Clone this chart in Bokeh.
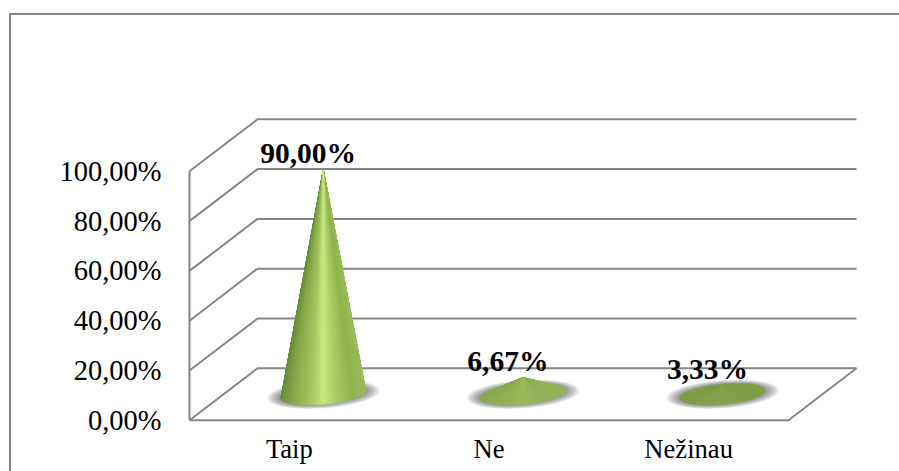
from bokeh.core.properties import value
from bokeh.embed import file_html
from bokeh.models import FixedTicker, Range1d
from bokeh.plotting import figure
from bokeh.resources import INLINE
import numpy as np

categories = ["Taip", "Ne", "Nežinau"]
shares = [90.00, 6.67, 3.33]
share_labels = ["90,00%", "6,67%", "3,33%"]
y_ticks = [0, 20, 40, 60, 80, 100]
y_tick_labels = ["0,00%", "20,00%", "40,00%", "60,00%", "80,00%", "100,00%"]

FONT = "Liberation Serif"
WALL = "#868686"

# Oblique projection of the floor: how far the back wall sits from the front plane.
DEPTH_X = 0.3406
DEPTH_Y = 20.88
# Cone footprint on the floor, tilted a little by the projection.
BASE_RX = 0.212
BASE_RY = 4.0
BASE_TILT = 1.5

p = figure(
    width=890, height=458, output_backend="svg", toolbar_location=None,
    x_range=Range1d(-0.545, 3.066), y_range=Range1d(-2.09, 162.57),
    min_border_left=169, min_border_right=0, min_border_top=0, min_border_bottom=48,
    background_fill_color="white", border_fill_color="white",
    margin=(13, 0, 0, 9),
    # Chart border, open at the right and bottom.
    styles={"border-left": f"2px solid {WALL}", "border-top": f"2px solid {WALL}"},
)
p.outline_line_color = None
p.grid.visible = False

# Walls and floor.
x0, x1 = -0.5, 2.5
wall_xs, wall_ys = [], []
for tick in y_ticks:
    wall_xs.append([x0, x0 + DEPTH_X, x1 + DEPTH_X])
    wall_ys.append([tick, tick + DEPTH_Y, tick + DEPTH_Y])
wall_xs.append([x0, x0])
wall_ys.append([0, 100])
wall_xs.append([x0, x1, x1 + DEPTH_X])
wall_ys.append([0, 0, DEPTH_Y])
p.multi_line(wall_xs, wall_ys, line_color=WALL, line_width=2)


def hex_rgb(code):
    return np.array([int(code[i:i + 2], 16) for i in (1, 3, 5)], dtype=float)


def rgb_hex(rgb):
    return "#%02x%02x%02x" % tuple(int(round(c)) for c in rgb)


RAMP_POS = [-1.0, -0.75, -0.3, 0.0, 0.3, 0.7, 1.0]
RAMP_COL = [hex_rgb(c) for c in
            ("#6c8c3a", "#86a849", "#a3c55f", "#c6e97e", "#a9cd65", "#8fb24e", "#9cbc5c")]


def cone_colour(across, share):
    """Cylindrical highlight for tall cones, a nearly flat tone for squat ones."""
    lit = np.array([np.interp(across, RAMP_POS, [c[k] for c in RAMP_COL]) for k in range(3)])
    mix = min(1.0, max(0.0, (share - 3.33) / 3.34))
    flat = hex_rgb("#7f9d47") * (1 - mix) + hex_rgb("#90b153") * mix
    tall = min(1.0, share / 40.0)
    return rgb_hex(lit * tall + flat * (1 - tall))


angles = np.linspace(0, 2 * np.pi, 145)

for i, share in enumerate(shares):
    cx = i + DEPTH_X / 2
    cy = DEPTH_Y / 2

    # Soft shadow: stacked translucent ellipses growing outwards.
    grow = np.linspace(1.34, 1.02, 14)
    for g in grow:
        sx = cx + BASE_RX * g * np.cos(angles)
        sy = cy + BASE_RY * (1 + (g - 1) * 1.25) * np.sin(angles) + BASE_TILT * np.cos(angles)
        p.patch(sx, sy, fill_color="#4a4a4a", fill_alpha=0.055, line_color=None)

    # Cone surface: a fan of slivers from the apex, back half first.
    apex_y = cy + share
    order = sorted(range(len(angles) - 1), key=lambda j: -np.sin((angles[j] + angles[j + 1]) / 2))
    xs, ys, cols = [], [], []
    for j in order:
        a, b = angles[j], angles[j + 1]
        xs.append([cx, cx + BASE_RX * np.cos(a), cx + BASE_RX * np.cos(b)])
        ys.append([apex_y,
                   cy + BASE_RY * np.sin(a) + BASE_TILT * np.cos(a),
                   cy + BASE_RY * np.sin(b) + BASE_TILT * np.cos(b)])
        cols.append(cone_colour(np.cos((a + b) / 2), share))
    p.patches(xs, ys, fill_color=cols, line_color=cols, line_width=0.7)

# Value labels just above each apex.
p.text(
    [i + DEPTH_X / 2 - 0.076 for i in range(len(shares))],
    [DEPTH_Y / 2 + s for s in shares],
    text=share_labels, text_font=value(FONT), text_font_style="bold",
    text_font_size="29.5px", text_color="black", text_align="center",
    text_baseline="alphabetic", y_offset=-17,
)

p.xaxis.ticker = FixedTicker(ticks=list(range(len(categories))))
p.xaxis.major_label_overrides = dict(enumerate(categories))
p.xaxis.major_label_standoff = 8
p.xaxis.major_label_text_font = FONT
p.xaxis.major_label_text_font_size = "26.6px"
p.xaxis.major_label_text_color = "black"
p.xaxis.axis_line_color = None
p.xaxis.major_tick_line_color = None
p.xaxis.minor_tick_line_color = None
p.xaxis.major_tick_out = 0
p.xaxis.major_tick_in = 0

p.yaxis.ticker = FixedTicker(ticks=y_ticks)
p.yaxis.major_label_overrides = dict(zip(y_ticks, y_tick_labels))
p.yaxis.major_label_standoff = 19
p.yaxis.major_label_text_font = FONT
p.yaxis.major_label_text_font_size = "28.5px"
p.yaxis.major_label_text_color = "black"
p.yaxis.axis_line_color = None
p.yaxis.major_tick_line_color = None
p.yaxis.minor_tick_line_color = None
p.yaxis.major_tick_out = 0
p.yaxis.major_tick_in = 0

open("out.html", "w").write(file_html(p, INLINE))
